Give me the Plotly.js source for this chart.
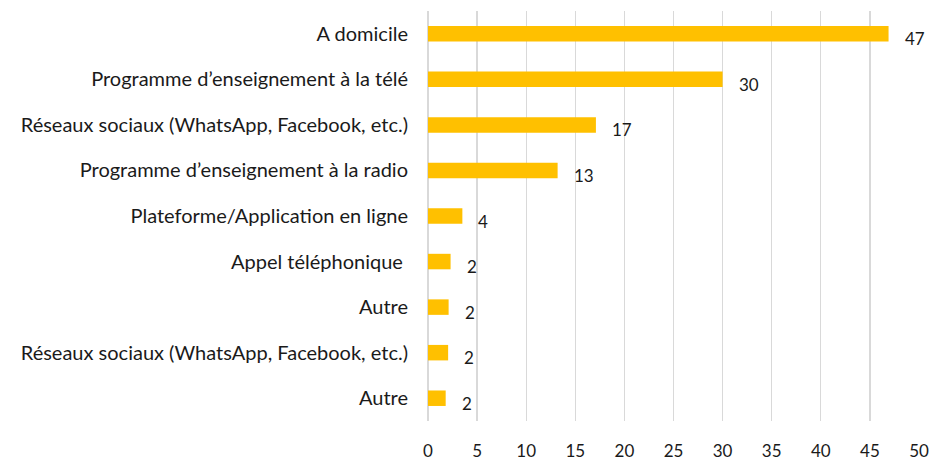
<!DOCTYPE html>
<html>
<head>
<meta charset="utf-8">
<script src="https://cdn.plot.ly/plotly-3.0.1.min.js"></script>
<style>html,body{margin:0;padding:0;background:#fff;}#chart{width:941px;height:462px;}</style>
</head>
<body>
<div id="chart"></div>
<script>
var categories = [
  "A domicile",
  "Programme d’enseignement à la télé",
  "Réseaux sociaux (WhatsApp, Facebook, etc.)",
  "Programme d’enseignement à la radio",
  "Plateforme/Application en ligne",
  "Appel téléphonique ",
  "Autre",
  "Réseaux sociaux (WhatsApp, Facebook, etc.)",
  "Autre"
];
var values = [46.9, 30, 17.1, 13.2, 3.5, 2.3, 2.1, 2.05, 1.8];
var valueLabels = ["47", "30", "17", "13", "4", "2", "2", "2", "2"];
var xTicks = [0, 5, 10, 15, 20, 25, 30, 35, 40, 45, 50];

var positions = categories.map(function (c, i) { return i; });
var font = "Lato, 'Open Sans', sans-serif";

var trace = {
  type: "bar",
  orientation: "h",
  x: values,
  y: positions,
  width: 0.34,
  marker: { color: "#FFC000" },
  hoverinfo: "skip"
};

var annotations = values.map(function (v, i) {
  return {
    x: v, y: positions[i], xref: "x", yref: "y",
    text: valueLabels[i], showarrow: false,
    xanchor: "left", yanchor: "middle",
    xshift: 14, yshift: -5,
    font: { family: font, size: 17, color: "#1a1a1a" }
  };
});

var layout = {
  width: 941, height: 462,
  margin: { l: 428, r: 22, t: 11, b: 41 },
  paper_bgcolor: "#fff", plot_bgcolor: "#fff",
  showlegend: false,
  font: { family: font, size: 20, color: "#1a1a1a" },
  xaxis: {
    range: [0, 50],
    tickvals: xTicks,
    ticktext: xTicks.map(String),
    showgrid: true, gridcolor: "#d9d9d9", gridwidth: 1.3,
    zeroline: true, zerolinecolor: "#d9d9d9", zerolinewidth: 1.3,
    showline: false, ticks: "",
    ticklabelstandoff: 18,
    tickfont: { family: font, size: 17, color: "#1a1a1a" },
    fixedrange: true
  },
  yaxis: {
    range: [8.5, -0.5],
    tickvals: positions,
    ticktext: categories,
    showgrid: false, zeroline: false, showline: false,
    ticks: "",
    ticklabelstandoff: 19,
    tickfont: { family: font, size: 20, color: "#1a1a1a" },
    fixedrange: true
  },
  annotations: annotations
};

Plotly.newPlot("chart", [trace], layout, { displayModeBar: false, staticPlot: true });
</script>
</body>
</html>
